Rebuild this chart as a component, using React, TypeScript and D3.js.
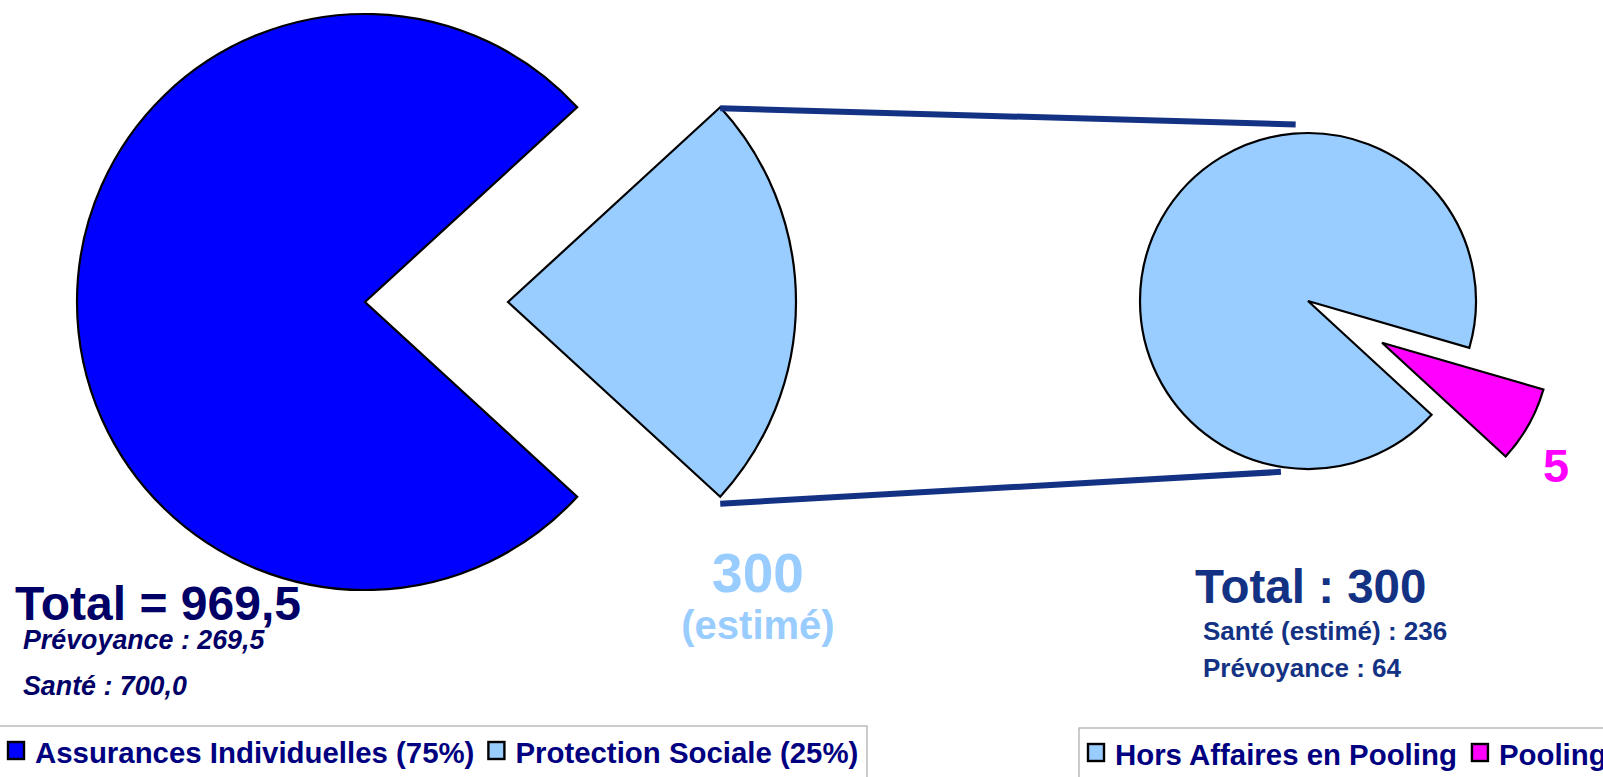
import React from 'react';
import * as d3 from 'd3';

// main pie: Assurances Individuelles vs Protection Sociale
const mainLabels = ['Assurances Individuelles', 'Protection Sociale'];
const mainValues = [969.5, 300];
const mainPercents = [75, 25];
const mainColors = ['#0000ff', '#99ccff'];

// second pie: the 300 of Protection Sociale split on pooling
const subLabels = ['Hors Affaires en Pooling', 'Pooling'];
const subValues = [63, 5];
const subColors = ['#99ccff', '#ff00ff'];

const leftDetailLabels = ['Prévoyance', 'Santé'];
const leftDetailValues = ['269,5', '700,0'];
const rightDetailLabels = ['Santé (estimé)', 'Prévoyance'];
const rightDetailValues = [236, 64];

const W = 1603, H = 777;
const FONT = 'Liberation Sans, Arial, Helvetica, sans-serif';
const NAVY = '#000066';
const LINE_BLUE = '#133283';

const measure = (txt: string, font: string) => {
  const c = document.createElement('canvas').getContext('2d');
  if (!c) return txt.length * 16;
  c.font = font;
  return c.measureText(txt).width;
};

const pt = (cx: number, cy: number, r: number, a: number) => [cx + r * Math.sin(a), cy - r * Math.cos(a)];

const Legend = ({ x, y, width, labels, colors, fs }: any) => {
  const font = `bold ${fs}px ${FONT}`;
  let cur = x + 9;
  const items = labels.map((l: string, i: number) => {
    const sq = cur;
    const tx = sq + 27;
    cur = tx + measure(l, font) + 14;
    return { l, sq, tx, c: colors[i] };
  });
  return (
    <g>
      <rect x={x} y={y} width={width} height={80} fill="#fff" stroke="#aaaaaa" strokeWidth={1.2} />
      {items.map((d: any) => (
        <g key={d.l}>
          <rect x={d.sq} y={y + 16} width={16} height={17} fill={d.c} stroke="#000" strokeWidth={2.4} />
          <text x={d.tx} y={y + 37} fontFamily={FONT} fontWeight="bold" fontSize={fs} fill="#000080">{d.l}</text>
        </g>
      ))}
    </g>
  );
};

export default function App() {
  // left pie
  const lcx = 365, lcy = 302, lr = 288, lExplode = 143;
  const mainTotal = d3.sum(mainValues);
  const gapA = (2 * Math.PI * mainValues[1]) / mainTotal;
  const lStart = Math.PI / 2 + gapA / 2;
  const mainArcs = d3.pie<number>().sort(null).startAngle(lStart).endAngle(lStart + 2 * Math.PI)(mainValues);
  const lArc = d3.arc<any>().innerRadius(0).outerRadius(lr);

  // right pie
  const rcx = 1308, rcy = 301, rr = 168, rExplode = 85;
  const subTotal = d3.sum(subValues);
  const poolA = (2 * Math.PI * subValues[1]) / subTotal;
  const poolMid = Math.PI / 2 + (29.4 * Math.PI) / 180;
  const rStart = poolMid + poolA / 2;
  const subArcs = d3.pie<number>().sort(null).startAngle(rStart).endAngle(rStart + 2 * Math.PI)(subValues);
  const rArc = d3.arc<any>().innerRadius(0).outerRadius(rr);

  const offset = (d: any, e: number) => {
    const m = (d.startAngle + d.endAngle) / 2;
    return [e * Math.sin(m), -e * Math.cos(m)];
  };

  // connectors from exploded slice corners to the second pie
  const ps = mainArcs[1];
  const [pox, poy] = offset(ps, lExplode);
  const topA = pt(lcx + pox, lcy + poy + 1, lr, ps.startAngle);
  const botA = pt(lcx + pox, lcy + poy + 7, lr, ps.endAngle);
  const topB = pt(rcx, rcy, rr + 9, (-4 * Math.PI) / 180);
  const botB = pt(rcx, rcy, rr + 5, Math.PI + (9 * Math.PI) / 180);

  return (
    <svg width={W} height={H} style={{ position: 'absolute', left: 0, top: 0 }}>
      <rect width={W} height={H} fill="#fff" />

      {mainArcs.map((d, i) => {
        const [ox, oy] = i === 1 ? offset(d, lExplode) : [0, 0];
        return (
          <path key={i} d={lArc(d) || ''} transform={`translate(${lcx + ox},${lcy + oy})`}
            fill={mainColors[i]} stroke="#000" strokeWidth={2.2} strokeLinejoin="miter" />
        );
      })}

      <line x1={topA[0]} y1={topA[1]} x2={topB[0]} y2={topB[1]} stroke={LINE_BLUE} strokeWidth={6} />
      <line x1={botA[0]} y1={botA[1]} x2={botB[0]} y2={botB[1]} stroke={LINE_BLUE} strokeWidth={6} />

      {subArcs.map((d, i) => {
        const [ox, oy] = i === 1 ? offset(d, rExplode) : [0, 0];
        return (
          <path key={i} d={rArc(d) || ''} transform={`translate(${rcx + ox},${rcy + oy})`}
            fill={subColors[i]} stroke="#000" strokeWidth={2.2} />
        );
      })}

      {/* left totals */}
      <text x={15} y={620} fontFamily={FONT} fontWeight="bold" fontSize={48} fill={NAVY}>
        {`Total = ${d3.format(',.1f')(mainValues[0]).replace('.', ',')}`}
      </text>
      {leftDetailLabels.map((l, i) => (
        <text key={l} x={23} y={649 + i * 46} fontFamily={FONT} fontWeight="bold" fontStyle="italic" fontSize={26.8} fill={NAVY}>
          {`${l} : ${leftDetailValues[i]}`}
        </text>
      ))}

      {/* exploded slice label */}
      <text x={758} y={592} textAnchor="middle" fontFamily={FONT} fontWeight="bold" fontSize={55} fill={mainColors[1]}>
        {mainValues[1]}
      </text>
      <text x={758} y={639} textAnchor="middle" fontFamily={FONT} fontWeight="bold" fontSize={40} fill={mainColors[1]}>
        (estimé)
      </text>

      {/* right totals */}
      <text x={1195} y={603} fontFamily={FONT} fontWeight="bold" fontSize={47.5} fill={LINE_BLUE}>
        {`Total : ${d3.sum(rightDetailValues)}`}
      </text>
      {rightDetailLabels.map((l, i) => (
        <text key={l} x={1203} y={640 + i * 37} fontFamily={FONT} fontWeight="bold" fontSize={26} fill={LINE_BLUE}>
          {`${l} : ${rightDetailValues[i]}`}
        </text>
      ))}

      <text x={1556} y={482} textAnchor="middle" fontFamily={FONT} fontWeight="bold" fontSize={47} fill={subColors[1]}>
        {subValues[1]}
      </text>

      <Legend x={-1} y={726} width={868} fs={29.4}
        labels={mainLabels.map((l, i) => `${l} (${mainPercents[i]}%)`)} colors={mainColors} />
      <Legend x={1079} y={728} width={600} fs={29.4} labels={subLabels} colors={subColors} />
    </svg>
  );
}
